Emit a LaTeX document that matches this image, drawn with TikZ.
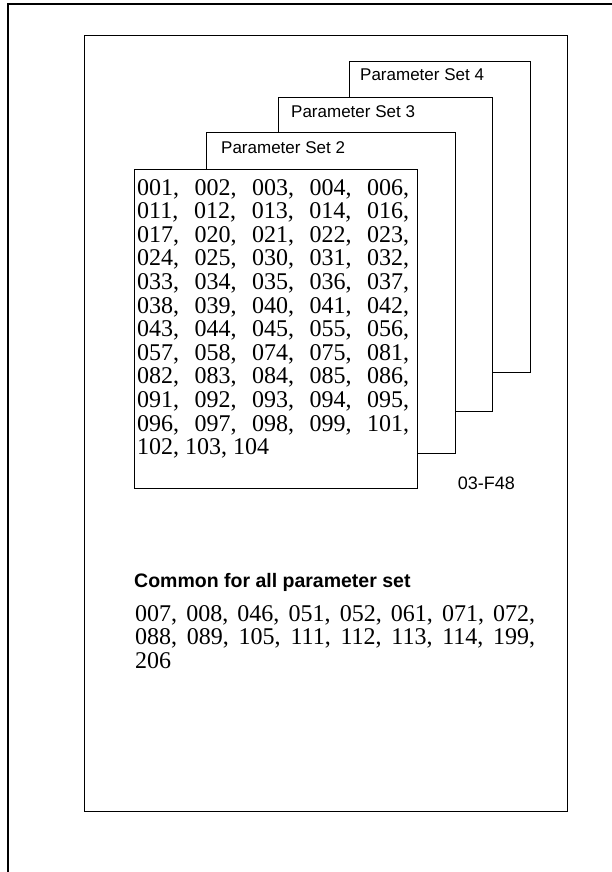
\documentclass[tikz,border=0pt]{standalone}
\usepackage{fontspec}
\setmainfont{Liberation Serif}
\setsansfont{Liberation Sans}
\begin{document}
\begin{tikzpicture}[x=1pt,y=-1pt,
  outerline/.style={draw=black, line width=1.6pt},
  frame/.style={draw=black, line width=1.2pt},
  sheet/.style={draw=black, fill=white, line width=1pt, inner sep=0pt, anchor=north west},
  pslabel/.style={anchor=west, inner sep=0pt, font=\sffamily\fontsize{17}{17}\selectfont},
  numtext/.style={anchor=north west, inner sep=0pt, align=left, font=\rmfamily\fontsize{24}{23.6}\selectfont},
  heading/.style={anchor=west, inner sep=0pt, font=\sffamily\bfseries\fontsize{19.5}{19.5}\selectfont},
  figid/.style={anchor=east, inner sep=0pt, font=\sffamily\fontsize{18}{18}\selectfont}]
\useasboundingbox (0,0) rectangle (612,872);
% page edge lines
\coordinate (pbl) at (8,872);
\coordinate (ptl) at (8,4);
\coordinate (ptr) at (612,4);
\draw[outerline] (pbl) -- (ptl) -- (ptr);
% inner frame
\node[frame, inner sep=0pt, anchor=north west, minimum width=483pt, minimum height=776pt] (fr) at (84,35) {};
% stacked sheets
\node[sheet, minimum width=181pt, minimum height=311pt] (ps4) at (349,61) {};
\node[pslabel] (ps4t) at ([xshift=11pt,yshift=-14pt]ps4.north west) {Parameter Set 4};
\node[sheet, minimum width=214pt, minimum height=314pt] (ps3) at (278,97) {};
\node[pslabel] (ps3t) at ([xshift=13pt,yshift=-15pt]ps3.north west) {Parameter Set 3};
\node[sheet, minimum width=249pt, minimum height=321pt] (ps2) at (206,132) {};
\node[pslabel] (ps2t) at ([xshift=15pt,yshift=-16pt]ps2.north west) {Parameter Set 2};
\node[sheet, minimum width=283pt, minimum height=319pt] (ps1) at (134,169) {};
\node[numtext] (ps1t) at ([xshift=3pt,yshift=-10pt]ps1.north west) {\parbox[t]{272pt}{%
001,\hfill 002,\hfill 003,\hfill 004,\hfill 006,\\
011,\hfill 012,\hfill 013,\hfill 014,\hfill 016,\\
017,\hfill 020,\hfill 021,\hfill 022,\hfill 023,\\
024,\hfill 025,\hfill 030,\hfill 031,\hfill 032,\\
033,\hfill 034,\hfill 035,\hfill 036,\hfill 037,\\
038,\hfill 039,\hfill 040,\hfill 041,\hfill 042,\\
043,\hfill 044,\hfill 045,\hfill 055,\hfill 056,\\
057,\hfill 058,\hfill 074,\hfill 075,\hfill 081,\\
082,\hfill 083,\hfill 084,\hfill 085,\hfill 086,\\
091,\hfill 092,\hfill 093,\hfill 094,\hfill 095,\\
096,\hfill 097,\hfill 098,\hfill 099,\hfill 101,\\
102, 103, 104}};
\node[figid] (fid) at (515,483) {03-F48};
% common section
\node[heading] (hd) at (134,582) {Common for all parameter set};
\node[numtext] (cm) at (135,605) {\parbox[t]{400pt}{\fontsize{24}{23.6}\selectfont
007,\hfill 008,\hfill 046,\hfill 051,\hfill 052,\hfill 061,\hfill 071,\hfill 072,\\
088,\hfill 089,\hfill 105,\hfill 111,\hfill 112,\hfill 113,\hfill 114,\hfill 199,\\
206}};
\end{tikzpicture}
\end{document}
